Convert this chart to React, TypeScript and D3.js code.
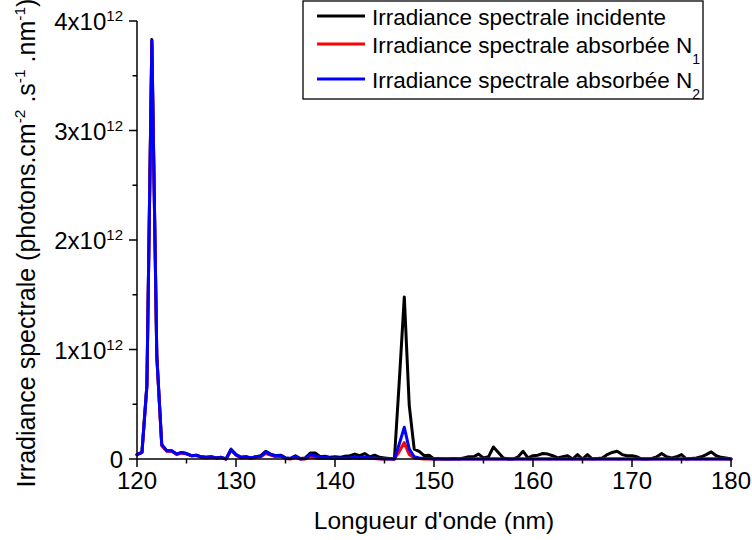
import React from "react";
import * as d3 from "d3";

const wavelengths = [
  120.0, 120.5, 121.0, 121.5, 122.0, 122.5, 123.0, 123.5, 124.0, 124.5,
  125.0, 125.5, 126.0, 126.5, 127.0, 127.5, 128.0, 128.5, 129.0, 129.5,
  130.0, 130.5, 131.0, 131.5, 132.0, 132.5, 133.0, 133.5, 134.0, 134.5,
  135.0, 135.5, 136.0, 136.5, 137.0, 137.5, 138.0, 138.5, 139.0, 139.5,
  140.0, 140.5, 141.0, 141.5, 142.0, 142.5, 143.0, 143.5, 144.0, 144.5,
  145.0, 145.5, 146.0, 146.5, 147.0, 147.5, 148.0, 148.5, 149.0, 149.5,
  150.0, 150.5, 151.0, 151.5, 152.0, 152.5, 153.0, 153.5, 154.0, 154.5,
  155.0, 155.5, 156.0, 156.5, 157.0, 157.5, 158.0, 158.5, 159.0, 159.5,
  160.0, 160.5, 161.0, 161.5, 162.0, 162.5, 163.0, 163.5, 164.0, 164.5,
  165.0, 165.5, 166.0, 166.5, 167.0, 167.5, 168.0, 168.5, 169.0, 169.5,
  170.0, 170.5, 171.0, 171.5, 172.0, 172.5, 173.0, 173.5, 174.0, 174.5,
  175.0, 175.5, 176.0, 176.5, 177.0, 177.5, 178.0, 178.5, 179.0, 179.5,
  180.0,
];

// values in units of 1e12 photons.cm-2.s-1.nm-1
const incident = [
  0.04, 0.06, 0.68, 3.83, 0.95, 0.13, 0.075, 0.075, 0.045, 0.06,
  0.05, 0.03, 0.035, 0.02, 0.015, 0.02, 0.01, 0.015, 0.0, 0.09,
  0.04, 0.015, 0.02, 0.01, 0.02, 0.03, 0.07, 0.045, 0.03, 0.035,
  0.01, 0.005, 0.03, 0.005, 0.01, 0.055, 0.055, 0.02, 0.025, 0.015,
  0.02, 0.015, 0.025, 0.03, 0.045, 0.03, 0.05, 0.02, 0.035, 0.015,
  0.01, 0.005, 0.0, 0.72, 1.48, 0.49, 0.09, 0.07, 0.03, 0.035,
  0.0, 0.005, 0.0, 0.0, 0.005, 0.0, 0.01, 0.02, 0.02, 0.045,
  0.01, 0.02, 0.11, 0.06, 0.01, 0.0, 0.0, 0.02, 0.07, 0.01,
  0.03, 0.035, 0.05, 0.045, 0.03, 0.01, 0.02, 0.03, 0.0, 0.04,
  0.0, 0.04, 0.0, 0.005, 0.01, 0.04, 0.06, 0.07, 0.04, 0.03,
  0.03, 0.02, 0.0, 0.0, 0.005, 0.02, 0.05, 0.02, 0.01, 0.02,
  0.04, 0.0, 0.005, 0.01, 0.02, 0.04, 0.065, 0.03, 0.015, 0.01,
  0.0,
];

const absorbedN1 = [
  0.04, 0.06, 0.66, 3.8, 0.93, 0.12, 0.07, 0.07, 0.04, 0.055,
  0.045, 0.03, 0.03, 0.015, 0.01, 0.015, 0.01, 0.01, 0.0, 0.08,
  0.035, 0.01, 0.015, 0.005, 0.015, 0.02, 0.05, 0.035, 0.02, 0.025,
  0.005, 0.0, 0.015, 0.0, 0.0, 0.02, 0.01, 0.005, 0.005, 0.005,
  0.005, 0.005, 0.005, 0.005, 0.01, 0.005, 0.01, 0.005, 0.005, 0.0,
  0.0, 0.0, 0.0, 0.07, 0.15, 0.04, 0.01, 0.005, 0.0, 0.0,
  0.0, 0.0, 0.0, 0.0, 0.0, 0.0, 0.0, 0.0, 0.0, 0.0,
  0.0, 0.0, 0.0, 0.0, 0.0, 0.0, 0.0, 0.0, 0.0, 0.0,
  0.0, 0.0, 0.0, 0.0, 0.0, 0.0, 0.0, 0.0, 0.0, 0.0,
  0.0, 0.0, 0.0, 0.0, 0.0, 0.0, 0.0, 0.0, 0.0, 0.0,
  0.0, 0.0, 0.0, 0.0, 0.0, 0.0, 0.0, 0.0, 0.0, 0.0,
  0.0, 0.0, 0.0, 0.0, 0.0, 0.0, 0.0, 0.0, 0.0, 0.0,
  0.0,
];

const absorbedN2 = [
  0.04, 0.06, 0.67, 3.82, 0.94, 0.13, 0.075, 0.075, 0.045, 0.06,
  0.05, 0.03, 0.035, 0.02, 0.015, 0.02, 0.01, 0.015, 0.0, 0.085,
  0.04, 0.015, 0.02, 0.01, 0.02, 0.025, 0.065, 0.04, 0.03, 0.03,
  0.01, 0.005, 0.025, 0.0, 0.005, 0.04, 0.03, 0.015, 0.015, 0.01,
  0.01, 0.01, 0.01, 0.01, 0.015, 0.01, 0.015, 0.01, 0.01, 0.005,
  0.0, 0.0, 0.0, 0.14, 0.29, 0.09, 0.02, 0.01, 0.005, 0.005,
  0.0, 0.0, 0.0, 0.0, 0.0, 0.0, 0.0, 0.0, 0.0, 0.0,
  0.0, 0.0, 0.0, 0.0, 0.0, 0.0, 0.0, 0.0, 0.0, 0.0,
  0.0, 0.0, 0.0, 0.0, 0.0, 0.0, 0.0, 0.0, 0.0, 0.0,
  0.0, 0.0, 0.0, 0.0, 0.0, 0.0, 0.0, 0.0, 0.0, 0.0,
  0.0, 0.0, 0.0, 0.0, 0.0, 0.0, 0.0, 0.0, 0.0, 0.0,
  0.0, 0.0, 0.0, 0.0, 0.0, 0.0, 0.0, 0.0, 0.0, 0.0,
  0.0,
];

const xTicks = [120, 130, 140, 150, 160, 170, 180];
const xMinorTicks = [125, 135, 145, 155, 165, 175];
const yTicks = [0, 1, 2, 3, 4];
const yTickMantissas = ["0", "1x10", "2x10", "3x10", "4x10"];
const yTickExponent = "12";
const yMinorTicks = [0.5, 1.5, 2.5, 3.5];

const seriesNames = [
  "Irradiance spectrale incidente",
  "Irradiance spectrale absorbée N",
  "Irradiance spectrale absorbée N",
];
const seriesSubscripts = ["", "1", "2"];
const seriesColors = ["#000000", "#ff0000", "#0000ff"];

const FONT = "'Liberation Sans', Arial, Helvetica, sans-serif";

export default function App() {
  const left = 137, right = 731, top = 21, bottom = 459;
  const x = d3.scaleLinear().domain([120, 180]).range([left, right]);
  const y = d3.scaleLinear().domain([0, 4]).range([bottom, top]);
  const series = [incident, absorbedN1, absorbedN2];
  const line = (vals: number[]) =>
    d3
      .line<number>()
      .x((_, i) => x(wavelengths[i]))
      .y((v) => y(v))(vals) || "";

  const legendRows = [25, 53, 88];

  return (
    <svg
      width={752}
      height={540}
      style={{ position: "absolute", left: 0, top: 0, background: "#fff" }}
      fontFamily={FONT}
    >
      <rect x={0} y={0} width={752} height={540} fill="#fff" />
      {/* data */}
      {series.map((vals, i) => (
        <path
          key={i}
          d={line(vals)}
          fill="none"
          stroke={seriesColors[i]}
          strokeWidth={3}
          strokeLinejoin="round"
          strokeLinecap="round"
        />
      ))}
      {/* axes */}
      <line x1={left} x2={left} y1={top} y2={bottom} stroke="#000" strokeWidth={1.5} />
      <line x1={left} x2={right} y1={bottom} y2={bottom} stroke="#000" strokeWidth={1.5} />
      {xTicks.map((t) => (
        <g key={"xt" + t}>
          <line x1={x(t)} x2={x(t)} y1={bottom} y2={bottom + 8} stroke="#000" strokeWidth={1.5} />
          <text x={x(t)} y={489} fontSize={24} textAnchor="middle">
            {t}
          </text>
        </g>
      ))}
      {xMinorTicks.map((t) => (
        <line key={"xm" + t} x1={x(t)} x2={x(t)} y1={bottom} y2={bottom + 4.5} stroke="#000" strokeWidth={1.5} />
      ))}
      {yTicks.map((t, i) => (
        <g key={"yt" + t}>
          <line x1={left - 8} x2={left} y1={y(t)} y2={y(t)} stroke="#000" strokeWidth={1.5} />
          <text x={123} y={y(t) + 9} fontSize={24} textAnchor="end">
            {yTickMantissas[i]}
            {t !== 0 && (
              <tspan dy={-9} fontSize={15}>
                {yTickExponent}
              </tspan>
            )}
          </text>
        </g>
      ))}
      {yMinorTicks.map((t) => (
        <line key={"ym" + t} x1={left - 4.5} x2={left} y1={y(t)} y2={y(t)} stroke="#000" strokeWidth={1.5} />
      ))}
      {/* axis titles */}
      <text x={434} y={529} fontSize={24.5} textAnchor="middle">
        Longueur d'onde (nm)
      </text>
      <text transform={`translate(35,${(top + bottom) / 2 + 3}) rotate(-90)`} fontSize={25} textAnchor="middle">
        Irradiance spectrale (photons.cm
        <tspan dy={-10} fontSize={15.5}>-2</tspan>
        <tspan dy={10}> .s</tspan>
        <tspan dy={-10} fontSize={15.5}>-1</tspan>
        <tspan dy={10}> .nm</tspan>
        <tspan dy={-10} fontSize={15.5}>-1</tspan>
        <tspan dy={10}>)</tspan>
      </text>
      {/* legend */}
      <rect x={303} y={1} width={400} height={98} fill="#fff" stroke="#000" strokeWidth={1.3} />
      {seriesNames.map((name, i) => (
        <g key={"lg" + i}>
          <line
            x1={317}
            x2={365}
            y1={legendRows[i] - 9}
            y2={legendRows[i] - 9}
            stroke={seriesColors[i]}
            strokeWidth={3}
          />
          <text x={372} y={legendRows[i]} fontSize={22.5}>
            {name}
            {seriesSubscripts[i] && (
              <tspan dy={11} fontSize={14}>
                {seriesSubscripts[i]}
              </tspan>
            )}
          </text>
        </g>
      ))}
    </svg>
  );
}
